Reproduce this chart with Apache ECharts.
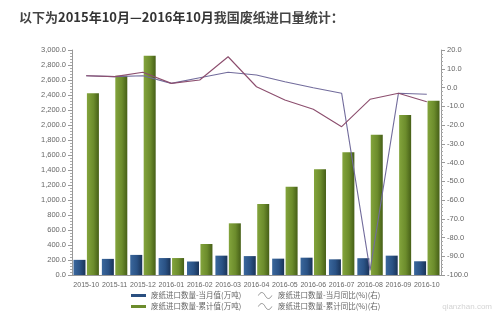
<!DOCTYPE html>
<html>
<head>
<meta charset="utf-8">
<script src="https://cdn.jsdelivr.net/npm/echarts@6/dist/echarts.min.js"></script>
<style>
  html, body { margin: 0; padding: 0; background: #fff; }
  #chart { width: 500px; height: 323px; }
</style>
</head>
<body>
<div id="chart"></div>
<script>
// Monthly waste paper imports, Oct 2015 – Oct 2016
const months = ['2015-10', '2015-11', '2015-12', '2016-01', '2016-02', '2016-03', '2016-04',
                '2016-05', '2016-06', '2016-07', '2016-08', '2016-09', '2016-10'];
// 当月值 (万吨)
const monthlyVolume = [202, 215, 268, 226, 180, 258, 252, 218, 231, 209, 224, 258, 183];
// 累计值 (万吨)
const cumulativeVolume = [2422, 2657, 2924, 226, 413, 689, 947, 1177, 1409, 1636, 1870, 2133, 2324];
// 当月同比 (%)
const monthlyYoY = [6.3, 5.8, 6.3, 2.2, 5.2, 8.1, 6.7, 3.1, -0.1, -3.1, -97.5, -3.1, -3.6];
// 累计同比 (%)
const cumulativeYoY = [6.3, 5.8, 8.1, 2.2, 4.0, 16.4, 0.4, -6.7, -11.6, -20.9, -6.3, -3.1, -7.6];

const names = {
  mv: '废纸进口数量-当月值(万吨)',
  cv: '废纸进口数量-累计值(万吨)',
  my: '废纸进口数量-当月同比(%)(右)',
  cy: '废纸进口数量-累计同比(%)(右)'
};

const FONT = '"Liberation Sans", Arial, "Noto Sans CJK SC", sans-serif';
const CJK = '"Noto Sans CJK SC", sans-serif';
const LABEL = '#666';
const AXIS = '#999';
const BLUE = '#2a4f80';
const GREEN = '#6c8c2c';
const LINE_A = '#726c9c';
const LINE_B = '#8c4e6e';

function cylinder(light, mid, dark) {
  return new echarts.graphic.LinearGradient(0, 0, 1, 0, [
    { offset: 0, color: light },
    { offset: 0.55, color: mid },
    { offset: 1, color: dark }
  ]);
}

const wave = 'path://M0,6 C3,0 7,0 10,6 C13,12 17,12 20,6';
const legendText = { fontSize: 7.5, lineHeight: 9, color: LABEL, fontFamily: CJK };

const chart = echarts.init(document.getElementById('chart'), null, { renderer: 'canvas' });

chart.setOption({
  animation: false,
  backgroundColor: '#fff',
  textStyle: { fontFamily: FONT },
  title: {
    left: 14,
    top: 6,
    text: '{n|以下为}{b|2015年10月—2016年10月}{n|我国废纸进口量统计：}',
    textStyle: {
      rich: {
        n: { fontSize: 13, color: '#444', fontFamily: CJK },
        b: { fontSize: 13, color: '#333', fontWeight: 'bold', fontFamily: '"Noto Sans CJK SC", "Liberation Sans", sans-serif' }
      }
    }
  },
  grid: { left: 72, right: 59, top: 50, bottom: 48 },
  legend: [
    {
      orient: 'vertical',
      left: 131,
      top: 291,
      padding: 0,
      itemGap: 2,
      itemWidth: 15,
      itemHeight: 3,
      textStyle: legendText,
      data: [
        { name: names.mv, icon: 'rect', itemStyle: { color: BLUE } },
        { name: names.cv, icon: 'rect', itemStyle: { color: GREEN } }
      ]
    },
    {
      orient: 'vertical',
      left: 258,
      top: 291,
      padding: 0,
      itemGap: 2,
      itemWidth: 16,
      itemHeight: 6,
      textStyle: legendText,
      data: [
        { name: names.my, icon: wave, itemStyle: { color: 'rgba(0,0,0,0)', borderColor: '#888', borderWidth: 0.9 } },
        { name: names.cy, icon: wave, itemStyle: { color: 'rgba(0,0,0,0)', borderColor: '#888', borderWidth: 0.9 } }
      ]
    }
  ],
  xAxis: {
    type: 'category',
    data: months,
    boundaryGap: true,
    axisLine: { lineStyle: { color: AXIS } },
    axisTick: { alignWithLabel: true, length: 3, lineStyle: { color: AXIS } },
    axisLabel: { fontSize: 7, color: LABEL, margin: 7, interval: 0 }
  },
  yAxis: [
    {
      type: 'value',
      min: 0,
      max: 3000,
      interval: 200,
      position: 'left',
      splitLine: { show: false },
      axisLine: { show: true, lineStyle: { color: AXIS } },
      axisTick: { show: true, length: 4, lineStyle: { color: AXIS } },
      minorTick: { show: true, splitNumber: 5, length: 2, lineStyle: { color: '#aaa' } },
      axisLabel: {
        fontSize: 7.5,
        color: LABEL,
        margin: 6,
        formatter: v => v.toLocaleString('en-US', { minimumFractionDigits: 1, maximumFractionDigits: 1 })
      }
    },
    {
      type: 'value',
      min: -100,
      max: 20,
      interval: 10,
      position: 'right',
      splitLine: { show: false },
      axisLine: { show: true, lineStyle: { color: AXIS } },
      axisTick: { show: true, length: 4, lineStyle: { color: AXIS } },
      minorTick: { show: true, splitNumber: 5, length: 2, lineStyle: { color: '#aaa' } },
      axisLabel: {
        fontSize: 7.5,
        color: LABEL,
        margin: 6,
        formatter: v => v.toFixed(1)
      }
    }
  ],
  series: [
    {
      name: names.mv,
      type: 'bar',
      yAxisIndex: 0,
      data: monthlyVolume,
      barWidth: 12,
      barGap: '12%',
      itemStyle: { color: cylinder('#3a679c', '#2a5285', '#1a3357') }
    },
    {
      name: names.cv,
      type: 'bar',
      yAxisIndex: 0,
      data: cumulativeVolume,
      barWidth: 12,
      itemStyle: { color: cylinder('#83a43c', '#6c8c2c', '#465f17') }
    },
    {
      name: names.my,
      type: 'line',
      yAxisIndex: 1,
      data: monthlyYoY,
      symbol: 'none',
      lineStyle: { color: LINE_A, width: 1.1 },
      itemStyle: { color: LINE_A }
    },
    {
      name: names.cy,
      type: 'line',
      yAxisIndex: 1,
      data: cumulativeYoY,
      symbol: 'none',
      lineStyle: { color: LINE_B, width: 1.1 },
      itemStyle: { color: LINE_B }
    }
  ],
  graphic: [
    {
      type: 'text',
      right: 8,
      top: 303,
      style: { text: 'qianzhan.com', fontSize: 8, fill: '#d4d4d4', fontFamily: FONT }
    }
  ]
});
</script>
</body>
</html>
